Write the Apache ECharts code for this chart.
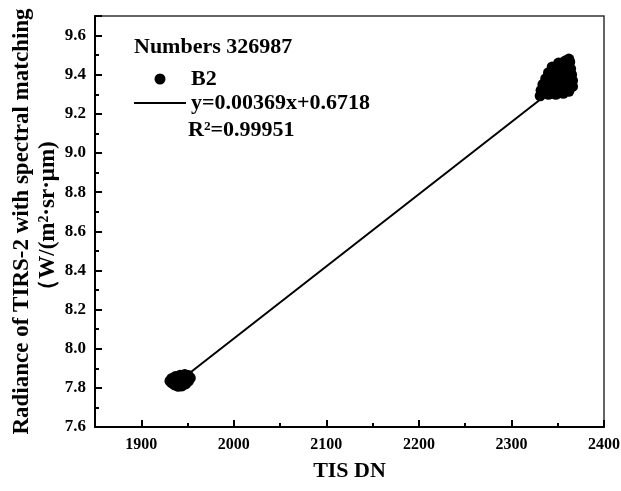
<!DOCTYPE html>
<html>
<head>
<meta charset="utf-8">
<script src="https://cdn.jsdelivr.net/npm/echarts@6/dist/echarts.min.js"></script>
<style>
  html, body { margin: 0; padding: 0; background: #fff; }
  #chart { width: 621px; height: 491px; }
</style>
</head>
<body>
<div id="chart"></div>
<script>
// TIS digital numbers (x) and TIRS-2 radiance (y) for the B2 sample points
const dnValues = [
  1931, 1933, 1936, 1940, 1944, 1948, 1951, 1953, 1951, 1947,
  1942, 1937, 1933, 1938, 1943, 1947, 1941, 1946, 1935,
  2358, 2351, 2344, 2363, 2340, 2337, 2334, 2332, 2333, 2340,
  2348, 2356, 2362, 2366, 2366, 2365, 2364, 2343, 2350, 2356,
  2348, 2358, 2352, 2342, 2360, 2355, 2346, 2361, 2331, 2362
];
const radianceValues = [
  7.835, 7.825, 7.815, 7.808, 7.810, 7.820, 7.835, 7.850, 7.863, 7.868,
  7.865, 7.858, 7.848, 7.838, 7.840, 7.845, 7.825, 7.830, 7.840,
  9.470, 9.460, 9.440, 9.465, 9.410, 9.380, 9.350, 9.320, 9.305, 9.300,
  9.300, 9.305, 9.315, 9.340, 9.370, 9.400, 9.430, 9.330, 9.350, 9.380,
  9.390, 9.420, 9.430, 9.360, 9.350, 9.330, 9.410, 9.390, 9.292, 9.480
];

// Linear fit of radiance against DN
const fitSlope = 0.00369;
const fitIntercept = 0.6718;
const fitDnRange = [1936, 2345];
const sampleCount = '326987';
const rSquared = '0.99951';

// Axis extents and tick spacing
const xRange = [1850, 2400];
const yRange = [7.6, 9.7];
const yStep = 0.2;

const points = dnValues.map((x, i) => [x, radianceValues[i]]);
const fitLine = fitDnRange.map(x => [x, fitIntercept + fitSlope * x]);
const fitLabel = 'y=' + fitSlope + 'x+' + fitIntercept;

const FONT = '"Liberation Serif", "Times New Roman", serif';
const chart = echarts.init(document.getElementById('chart'));

const axisCommon = {
  axisLine: { show: true, onZero: false, lineStyle: { color: '#000', width: 2 } },
  axisTick: { show: true, inside: true, length: 7, lineStyle: { color: '#000', width: 2 } },
  minorTick: { show: true, splitNumber: 2, length: 4, lineStyle: { color: '#000', width: 2 } },
  splitLine: { show: false },
  axisLabel: { color: '#000', fontFamily: FONT, fontWeight: 'bold', fontSize: 16 },
  nameTextStyle: { color: '#000', fontFamily: FONT, fontWeight: 'bold', fontSize: 22 }
};

chart.setOption({
  backgroundColor: '#fff',
  animation: false,
  grid: {
    left: 95, right: 17, top: 16, bottom: 64,
    outerBoundsMode: 'none', containLabel: false,
    show: true, borderColor: '#333', borderWidth: 1.5
  },
  xAxis: Object.assign({}, axisCommon, {
    type: 'value', min: xRange[0], max: xRange[1], splitNumber: 5,
    name: 'TIS DN', nameLocation: 'middle', nameGap: 33,
    axisLabel: Object.assign({}, axisCommon.axisLabel, {
      margin: 10, showMinLabel: false, showMaxLabel: true,
      formatter: v => String(v)
    })
  }),
  yAxis: Object.assign({}, axisCommon, {
    type: 'value', min: yRange[0], max: yRange[1], interval: yStep,
    name: 'Radiance of TIRS-2 with spectral matching\n（W/(m²·sr·μm)',
    nameLocation: 'middle', nameGap: 34, nameMoveOverlap: false,
    nameTextStyle: Object.assign({}, axisCommon.nameTextStyle, { fontSize: 23, lineHeight: 26 }),
    axisLabel: Object.assign({}, axisCommon.axisLabel, {
      fontSize: 17, margin: 9, showMinLabel: true, showMaxLabel: false,
      formatter: v => v.toFixed(1)
    })
  }),
  legend: {
    orient: 'vertical', left: 133, top: 67, padding: 0,
    itemWidth: 52, itemHeight: 11, itemGap: 0,
    textStyle: { color: '#000', fontFamily: FONT, fontWeight: 'bold', fontSize: 22, lineHeight: 24 },
    data: [
      { name: 'B2', itemStyle: { color: '#000', opacity: 1 } },
      { name: fitLabel, itemStyle: { opacity: 0 }, lineStyle: { color: '#000', width: 2 } }
    ]
  },
  graphic: [
    { type: 'text', left: 134, top: 36, style: { text: 'Numbers ' + sampleCount, fill: '#000', font: 'bold 22px ' + FONT } },
    { type: 'text', left: 188, top: 119, style: { text: 'R²=' + rSquared, fill: '#000', font: 'bold 22px ' + FONT } }
  ],
  series: [
    {
      name: 'B2', type: 'scatter', data: points, symbol: 'circle', symbolSize: 11,
      itemStyle: { color: '#000', opacity: 1 }, z: 3
    },
    {
      name: fitLabel, type: 'line', data: fitLine, symbol: 'none', showSymbol: false,
      lineStyle: { color: '#000', width: 2 }, itemStyle: { color: '#000' }, z: 2
    }
  ]
});
</script>
</body>
</html>
